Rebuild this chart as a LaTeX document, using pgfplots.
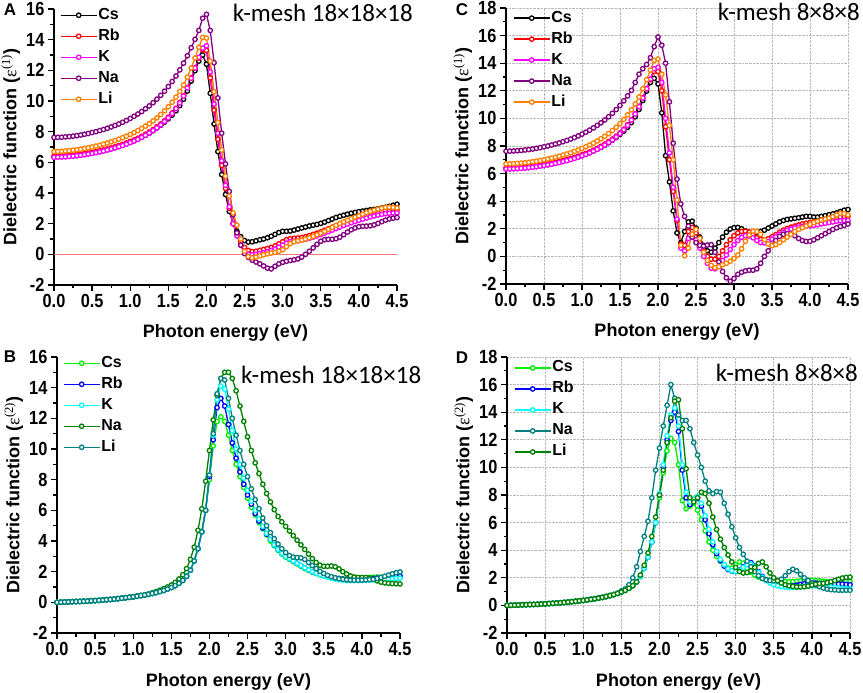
\documentclass[border=0pt]{standalone}
\usepackage{pgfplots}
\pgfplotsset{compat=1.18}
\usepackage{pgfplotstable}
\usepackage{fontspec}
\setmainfont{Liberation Sans}
\newfontfamily\kfont{Carlito}
\newfontfamily\serfont{Liberation Serif}

\definecolor{cBlack}{RGB}{0,0,0}
\definecolor{cRed}{RGB}{255,0,0}
\definecolor{cMag}{RGB}{255,0,255}
\definecolor{cPur}{RGB}{128,0,128}
\definecolor{cOra}{RGB}{255,128,0}
\definecolor{cGre}{RGB}{0,240,0}
\definecolor{cBlu}{RGB}{0,0,255}
\definecolor{cCya}{RGB}{0,255,255}
\definecolor{cDgr}{RGB}{0,128,0}
\definecolor{cTea}{RGB}{0,128,128}
\definecolor{zeroline}{RGB}{240,120,120}

\pgfplotstableread{
x Cs Rb K Na Li
0.00 6.35 6.40 6.33 7.62 6.70
0.05 6.36 6.41 6.34 7.63 6.71
0.10 6.37 6.42 6.35 7.64 6.72
0.15 6.38 6.43 6.36 7.66 6.74
0.20 6.40 6.45 6.38 7.68 6.76
0.25 6.42 6.47 6.40 7.71 6.79
0.30 6.45 6.50 6.43 7.74 6.82
0.35 6.48 6.53 6.46 7.78 6.86
0.40 6.52 6.57 6.50 7.83 6.90
0.45 6.56 6.61 6.54 7.88 6.95
0.50 6.60 6.65 6.58 7.94 7.00
0.55 6.65 6.70 6.63 8.00 7.06
0.60 6.70 6.75 6.68 8.07 7.12
0.65 6.76 6.81 6.74 8.14 7.19
0.70 6.82 6.87 6.80 8.22 7.26
0.75 6.89 6.94 6.87 8.31 7.34
0.80 6.96 7.01 6.94 8.40 7.42
0.85 7.04 7.09 7.02 8.50 7.51
0.90 7.12 7.17 7.10 8.61 7.61
0.95 7.21 7.26 7.19 8.73 7.71
1.00 7.30 7.36 7.29 8.86 7.82
1.05 7.40 7.46 7.39 9.00 7.94
1.10 7.51 7.57 7.50 9.15 8.07
1.15 7.63 7.70 7.63 9.31 8.21
1.20 7.76 7.83 7.76 9.49 8.36
1.25 7.90 7.98 7.91 9.68 8.52
1.30 8.06 8.14 8.07 9.89 8.70
1.35 8.24 8.32 8.25 10.12 8.90
1.40 8.42 8.50 8.44 10.37 9.12
1.45 8.62 8.71 8.66 10.64 9.36
1.50 8.84 8.95 8.90 10.94 9.62
1.55 9.08 9.22 9.18 11.27 9.92
1.60 9.36 9.53 9.50 11.63 10.25
1.65 9.70 9.90 9.88 12.03 10.62
1.70 10.12 10.34 10.32 12.47 11.05
1.75 10.65 10.87 10.85 12.95 11.55
1.80 11.30 11.50 11.48 13.47 12.15
1.85 11.98 12.15 12.15 14.02 12.80
1.90 12.60 12.80 12.85 14.60 13.50
1.95 13.00 13.35 13.45 15.40 14.15
2.00 12.40 13.30 13.60 15.65 14.10
2.05 10.50 11.50 11.90 14.60 12.60
2.10 8.50 9.40 9.80 12.50 10.60
2.15 6.70 7.50 7.90 10.20 8.60
2.20 5.20 5.80 6.10 7.90 6.80
2.25 3.90 4.30 4.50 5.90 5.10
2.30 2.80 3.00 3.10 4.10 3.80
2.35 2.00 2.00 2.00 2.60 2.70
2.40 1.50 1.30 1.20 1.40 1.90
2.45 1.15 0.80 0.60 0.60 1.00
2.50 0.90 0.45 0.20 0.05 0.20
2.55 0.80 0.25 0.00 -0.20 -0.15
2.60 0.82 0.18 -0.03 -0.38 -0.22
2.65 0.88 0.20 0.00 -0.50 -0.18
2.70 0.95 0.26 0.05 -0.62 -0.10
2.75 1.00 0.32 0.10 -0.76 -0.03
2.80 1.08 0.38 0.17 -0.90 0.03
2.85 1.18 0.45 0.25 -0.95 0.08
2.90 1.30 0.55 0.35 -0.78 0.13
2.95 1.42 0.68 0.47 -0.62 0.20
3.00 1.50 0.82 0.60 -0.52 0.30
3.05 1.50 0.95 0.73 -0.45 0.50
3.10 1.52 1.02 0.82 -0.40 0.70
3.15 1.58 1.04 0.86 -0.36 0.82
3.20 1.65 1.06 0.89 -0.30 0.88
3.25 1.72 1.10 0.93 -0.18 0.93
3.30 1.78 1.15 0.98 0.00 1.00
3.35 1.85 1.22 1.05 0.20 1.08
3.40 1.90 1.30 1.12 0.42 1.17
3.45 1.95 1.38 1.20 0.65 1.27
3.50 2.02 1.47 1.29 0.85 1.38
3.55 2.10 1.57 1.38 0.95 1.50
3.60 2.20 1.67 1.48 0.98 1.63
3.65 2.30 1.77 1.58 0.98 1.76
3.70 2.40 1.87 1.68 1.02 1.89
3.75 2.48 1.97 1.78 1.12 2.01
3.80 2.55 2.06 1.88 1.28 2.12
3.85 2.62 2.15 1.97 1.45 2.22
3.90 2.68 2.24 2.06 1.60 2.32
3.95 2.73 2.32 2.14 1.72 2.42
4.00 2.78 2.40 2.22 1.80 2.52
4.05 2.82 2.47 2.30 1.83 2.62
4.10 2.86 2.54 2.37 1.84 2.71
4.15 2.90 2.61 2.44 1.86 2.80
4.20 2.93 2.67 2.50 1.92 2.88
4.25 2.97 2.73 2.56 2.02 2.95
4.30 3.02 2.79 2.61 2.13 3.01
4.35 3.07 2.84 2.65 2.23 3.06
4.40 3.13 2.88 2.68 2.31 3.08
4.45 3.20 2.90 2.70 2.36 3.06
4.50 3.27 2.90 2.70 2.40 3.02
}\tA

\pgfplotstableread{
x Cs Rb K Na Li
0.00 6.35 6.40 6.33 7.62 6.70
0.05 6.36 6.41 6.34 7.63 6.71
0.10 6.37 6.42 6.35 7.64 6.72
0.15 6.38 6.43 6.36 7.66 6.74
0.20 6.40 6.45 6.38 7.68 6.76
0.25 6.42 6.47 6.40 7.71 6.79
0.30 6.45 6.50 6.43 7.74 6.82
0.35 6.48 6.53 6.46 7.78 6.86
0.40 6.52 6.57 6.50 7.83 6.90
0.45 6.56 6.61 6.54 7.88 6.95
0.50 6.60 6.65 6.58 7.94 7.00
0.55 6.65 6.70 6.63 8.00 7.06
0.60 6.70 6.75 6.68 8.07 7.12
0.65 6.76 6.81 6.74 8.14 7.19
0.70 6.82 6.87 6.80 8.22 7.26
0.75 6.89 6.94 6.87 8.31 7.34
0.80 6.96 7.01 6.94 8.40 7.42
0.85 7.04 7.09 7.02 8.50 7.51
0.90 7.12 7.17 7.10 8.61 7.61
0.95 7.21 7.26 7.19 8.73 7.71
1.00 7.30 7.36 7.29 8.86 7.82
1.05 7.40 7.46 7.39 9.00 7.94
1.10 7.51 7.57 7.50 9.15 8.07
1.15 7.63 7.70 7.63 9.31 8.21
1.20 7.76 7.83 7.76 9.49 8.36
1.25 7.90 7.98 7.91 9.68 8.52
1.30 8.06 8.14 8.07 9.89 8.70
1.35 8.24 8.32 8.25 10.12 8.90
1.40 8.42 8.50 8.44 10.37 9.12
1.45 8.62 8.71 8.66 10.64 9.36
1.50 8.84 8.95 8.90 10.94 9.62
1.55 9.08 9.22 9.18 11.27 9.92
1.60 9.36 9.53 9.50 11.63 10.25
1.65 9.70 9.90 9.88 12.03 10.62
1.70 10.12 10.34 10.32 12.60 11.05
1.75 10.65 10.87 10.85 13.20 11.55
1.80 11.30 11.50 11.48 13.60 12.15
1.85 11.98 12.15 12.15 13.90 12.80
1.90 12.60 12.80 12.85 14.40 13.50
1.95 12.90 13.40 13.60 15.20 14.20
2.00 12.50 13.40 13.70 15.90 14.30
2.05 10.40 12.00 12.60 15.30 13.20
2.10 7.30 9.40 10.00 14.00 11.70
2.15 5.40 7.00 7.50 11.20 9.50
2.20 3.30 4.70 5.00 8.20 7.00
2.25 1.70 2.60 2.70 5.60 4.10
2.30 1.00 0.90 0.60 3.80 0.80
2.35 1.80 0.80 0.40 2.90 0.05
2.40 2.50 1.80 1.30 2.20 0.60
2.45 2.55 2.10 1.60 1.40 1.60
2.50 2.05 1.70 1.20 1.00 1.95
2.55 1.40 1.00 0.60 0.80 1.30
2.60 0.80 0.40 0.00 0.75 0.30
2.65 0.40 0.00 -0.50 0.82 -0.30
2.70 0.30 -0.20 -0.85 0.85 -0.65
2.75 0.60 -0.20 -0.90 0.30 -0.82
2.80 1.00 0.00 -0.70 -0.40 -0.75
2.85 1.40 0.40 -0.30 -1.10 -0.60
2.90 1.75 0.85 0.10 -1.55 -0.50
2.95 1.98 1.20 0.50 -1.80 -0.35
3.00 2.08 1.50 0.85 -1.60 -0.15
3.05 2.10 1.70 1.15 -1.30 0.10
3.10 2.00 1.80 1.38 -1.15 0.55
3.15 1.85 1.83 1.50 -1.05 1.10
3.20 1.75 1.75 1.48 -1.00 1.55
3.25 1.70 1.55 1.35 -1.00 1.83
3.30 1.72 1.35 1.15 -0.90 1.80
3.35 1.80 1.22 1.00 -0.50 1.60
3.40 1.90 1.20 0.98 0.00 1.20
3.45 2.05 1.28 1.08 0.40 0.90
3.50 2.20 1.42 1.25 0.80 0.78
3.55 2.35 1.58 1.42 1.15 0.85
3.60 2.50 1.75 1.60 1.45 1.00
3.65 2.60 1.90 1.75 1.60 1.20
3.70 2.68 2.02 1.88 1.65 1.40
3.75 2.72 2.12 1.98 1.62 1.60
3.80 2.76 2.20 2.06 1.50 1.80
3.85 2.80 2.28 2.12 1.30 1.95
3.90 2.85 2.35 2.17 1.15 2.08
3.95 2.90 2.40 2.20 1.08 2.20
4.00 2.90 2.45 2.22 1.10 2.32
4.05 2.85 2.50 2.25 1.20 2.45
4.10 2.85 2.55 2.30 1.35 2.55
4.15 2.90 2.60 2.35 1.50 2.63
4.20 2.95 2.65 2.40 1.65 2.70
4.25 3.02 2.70 2.45 1.80 2.78
4.30 3.08 2.75 2.50 1.95 2.88
4.35 3.15 2.80 2.55 2.07 3.00
4.40 3.25 2.85 2.58 2.17 3.12
4.45 3.35 2.88 2.60 2.25 3.10
4.50 3.40 2.90 2.60 2.35 3.00
}\tC

\pgfplotstableread{
x Cs Rb K Na Li
0.00 0.00 0.00 0.00 0.00 0.00
0.05 0.01 0.01 0.01 0.01 0.01
0.10 0.02 0.02 0.02 0.02 0.02
0.15 0.03 0.03 0.03 0.03 0.03
0.20 0.04 0.04 0.04 0.04 0.04
0.25 0.05 0.05 0.05 0.05 0.05
0.30 0.06 0.06 0.06 0.06 0.06
0.35 0.07 0.07 0.07 0.07 0.07
0.40 0.08 0.08 0.08 0.08 0.08
0.45 0.10 0.10 0.10 0.10 0.10
0.50 0.11 0.11 0.11 0.11 0.11
0.55 0.13 0.13 0.13 0.13 0.13
0.60 0.15 0.15 0.15 0.15 0.15
0.65 0.17 0.17 0.17 0.17 0.17
0.70 0.19 0.19 0.19 0.19 0.19
0.75 0.21 0.21 0.21 0.21 0.21
0.80 0.24 0.24 0.24 0.24 0.24
0.85 0.27 0.27 0.27 0.27 0.27
0.90 0.30 0.30 0.30 0.30 0.30
0.95 0.33 0.33 0.33 0.33 0.33
1.00 0.36 0.36 0.36 0.36 0.36
1.05 0.40 0.40 0.40 0.40 0.40
1.10 0.44 0.44 0.44 0.44 0.44
1.15 0.48 0.48 0.48 0.48 0.48
1.20 0.53 0.53 0.53 0.53 0.53
1.25 0.58 0.58 0.58 0.62 0.58
1.30 0.64 0.64 0.64 0.70 0.64
1.35 0.71 0.71 0.71 0.79 0.71
1.40 0.78 0.78 0.78 0.89 0.78
1.45 0.87 0.87 0.87 1.00 0.87
1.50 0.97 0.97 0.97 1.13 0.97
1.55 1.09 1.09 1.09 1.30 1.09
1.60 1.24 1.24 1.24 1.52 1.24
1.65 1.43 1.43 1.43 1.80 1.43
1.70 1.70 1.70 1.70 2.20 1.70
1.75 2.10 2.10 2.10 2.80 2.10
1.80 2.70 2.70 2.70 3.60 2.70
1.85 3.50 3.50 3.50 4.70 3.50
1.90 4.60 4.60 4.60 6.10 4.60
1.95 6.00 6.00 6.00 7.90 6.00
2.00 8.00 8.20 8.30 9.90 8.30
2.05 10.20 10.60 10.90 11.90 11.00
2.10 11.80 12.70 13.20 13.50 13.60
2.15 12.10 13.30 14.10 14.60 14.60
2.20 11.80 12.80 13.90 15.00 14.50
2.25 10.90 11.60 12.60 15.00 13.30
2.30 9.90 10.40 11.20 14.60 12.00
2.35 9.00 9.40 10.00 13.80 10.90
2.40 8.20 8.50 9.00 12.80 9.90
2.45 7.50 7.70 8.10 11.80 9.00
2.50 6.80 7.00 7.30 10.80 8.20
2.55 6.20 6.40 6.60 9.90 7.40
2.60 5.70 5.80 6.00 9.10 6.70
2.65 5.20 5.30 5.45 8.40 6.10
2.70 4.80 4.85 4.95 7.70 5.50
2.75 4.40 4.45 4.50 7.10 5.00
2.80 4.00 4.10 4.10 6.55 4.55
2.85 3.70 3.75 3.75 6.05 4.15
2.90 3.40 3.45 3.45 5.60 3.80
2.95 3.15 3.20 3.20 5.25 3.50
3.00 2.95 3.00 3.00 4.95 3.25
3.05 2.80 2.85 2.85 4.65 3.05
3.10 2.65 2.70 2.70 4.35 2.95
3.15 2.50 2.55 2.55 4.05 2.92
3.20 2.35 2.40 2.40 3.75 2.90
3.25 2.20 2.25 2.25 3.45 2.80
3.30 2.08 2.12 2.12 3.15 2.60
3.35 1.97 2.00 2.00 2.85 2.40
3.40 1.88 1.90 1.90 2.60 2.20
3.45 1.80 1.82 1.80 2.42 2.02
3.50 1.73 1.75 1.72 2.35 1.88
3.55 1.67 1.68 1.64 2.35 1.76
3.60 1.62 1.62 1.57 2.37 1.67
3.65 1.58 1.58 1.52 2.32 1.60
3.70 1.55 1.55 1.48 2.18 1.54
3.75 1.53 1.52 1.45 2.00 1.50
3.80 1.52 1.50 1.43 1.85 1.47
3.85 1.52 1.50 1.42 1.72 1.45
3.90 1.53 1.50 1.42 1.65 1.44
3.95 1.55 1.50 1.42 1.62 1.44
4.00 1.57 1.51 1.43 1.62 1.45
4.05 1.60 1.52 1.44 1.62 1.46
4.10 1.62 1.54 1.45 1.58 1.48
4.15 1.64 1.56 1.46 1.50 1.50
4.20 1.65 1.58 1.47 1.40 1.55
4.25 1.64 1.60 1.48 1.32 1.62
4.30 1.62 1.62 1.50 1.27 1.70
4.35 1.60 1.65 1.52 1.24 1.78
4.40 1.60 1.68 1.54 1.22 1.86
4.45 1.62 1.70 1.56 1.21 1.93
4.50 1.65 1.72 1.58 1.20 1.98
}\tB

\pgfplotstableread{
x Cs Rb K Na Li
0.00 0.00 0.00 0.00 0.00 0.00
0.05 0.01 0.01 0.01 0.01 0.01
0.10 0.02 0.02 0.02 0.02 0.02
0.15 0.03 0.03 0.03 0.03 0.03
0.20 0.04 0.04 0.04 0.04 0.04
0.25 0.05 0.05 0.05 0.05 0.05
0.30 0.06 0.06 0.06 0.06 0.06
0.35 0.07 0.07 0.07 0.07 0.07
0.40 0.08 0.08 0.08 0.08 0.08
0.45 0.10 0.10 0.10 0.10 0.10
0.50 0.11 0.11 0.11 0.11 0.11
0.55 0.13 0.13 0.13 0.13 0.13
0.60 0.15 0.15 0.15 0.15 0.15
0.65 0.17 0.17 0.17 0.17 0.17
0.70 0.19 0.19 0.19 0.19 0.19
0.75 0.21 0.21 0.21 0.21 0.21
0.80 0.24 0.24 0.24 0.24 0.24
0.85 0.27 0.27 0.27 0.27 0.27
0.90 0.30 0.30 0.30 0.30 0.30
0.95 0.33 0.33 0.33 0.33 0.33
1.00 0.36 0.36 0.36 0.36 0.36
1.05 0.40 0.40 0.40 0.40 0.40
1.10 0.44 0.44 0.44 0.44 0.44
1.15 0.48 0.48 0.48 0.48 0.48
1.20 0.53 0.53 0.53 0.53 0.53
1.25 0.58 0.58 0.58 0.58 0.58
1.30 0.64 0.64 0.64 0.64 0.64
1.35 0.71 0.71 0.71 0.71 0.71
1.40 0.78 0.78 0.78 0.78 0.78
1.45 0.87 0.87 0.87 0.87 0.87
1.50 0.97 0.97 0.97 1.05 0.97
1.55 1.09 1.09 1.09 1.20 1.09
1.60 1.24 1.24 1.24 1.50 1.24
1.65 1.43 1.43 1.43 2.00 1.43
1.70 1.70 1.70 1.70 2.80 1.70
1.75 2.10 2.10 2.10 3.90 2.20
1.80 2.70 2.70 2.70 5.00 2.90
1.85 3.50 3.50 3.50 6.10 3.80
1.90 4.60 4.60 4.60 7.80 5.00
1.95 6.00 6.00 6.00 9.80 6.40
2.00 7.80 8.00 8.10 11.40 8.00
2.05 9.60 10.00 10.20 13.00 9.80
2.10 11.20 12.00 12.30 14.50 11.80
2.15 12.10 13.40 13.80 16.00 13.60
2.20 11.80 14.00 14.30 15.00 14.80
2.25 10.20 12.60 13.00 13.80 14.90
2.30 7.60 9.80 10.20 13.40 12.80
2.35 7.00 7.80 8.20 13.40 9.90
2.40 7.20 7.30 7.50 12.80 7.80
2.45 7.40 7.60 7.70 11.80 7.50
2.50 6.90 7.80 7.90 10.90 7.80
2.55 6.20 7.20 7.40 10.00 8.20
2.60 5.40 6.20 6.50 9.00 8.10
2.65 4.60 5.20 5.50 8.30 7.40
2.70 4.00 4.40 4.60 8.10 6.40
2.75 3.55 3.75 3.90 8.25 5.50
2.80 3.20 3.25 3.35 8.20 4.80
2.85 2.90 2.85 2.95 7.40 4.20
2.90 2.70 2.60 2.65 6.60 3.65
2.95 2.70 2.48 2.50 5.70 3.15
3.00 2.95 2.45 2.45 4.90 2.75
3.05 3.15 2.55 2.52 4.20 2.45
3.10 3.05 2.80 2.75 3.70 2.35
3.15 2.70 3.05 2.95 3.20 2.38
3.20 2.40 3.10 3.00 2.80 2.50
3.25 2.20 2.85 2.80 2.45 2.75
3.30 2.05 2.45 2.40 2.15 3.05
3.35 1.95 2.10 2.05 1.95 3.15
3.40 1.88 1.85 1.80 1.85 2.80
3.45 1.82 1.68 1.62 1.80 2.35
3.50 1.78 1.56 1.50 1.78 2.00
3.55 1.75 1.48 1.42 1.80 1.78
3.60 1.73 1.43 1.36 1.90 1.62
3.65 1.72 1.40 1.32 2.15 1.50
3.70 1.72 1.40 1.30 2.45 1.42
3.75 1.73 1.42 1.30 2.62 1.37
3.80 1.75 1.46 1.32 2.50 1.34
3.85 1.78 1.52 1.35 2.25 1.33
3.90 1.80 1.57 1.38 2.00 1.35
3.95 1.82 1.60 1.40 1.80 1.40
4.00 1.82 1.62 1.42 1.62 1.47
4.05 1.80 1.62 1.42 1.48 1.54
4.10 1.78 1.60 1.40 1.35 1.58
4.15 1.75 1.58 1.38 1.25 1.60
4.20 1.72 1.56 1.35 1.18 1.65
4.25 1.70 1.55 1.32 1.14 1.72
4.30 1.70 1.55 1.30 1.12 1.80
4.35 1.72 1.55 1.28 1.10 1.90
4.40 1.75 1.55 1.25 1.10 1.98
4.45 1.75 1.52 1.22 1.10 2.03
4.50 1.72 1.50 1.20 1.10 2.05
}\tD

\pgfplotsset{
  legend image code/.code={\draw[mark repeat=2,mark phase=2,#1] plot coordinates {(0bp,0bp) (18bp,0bp) (36bp,0bp)};},
  panel/.style={
    scale only axis, width=343bp, height=276bp,
    axis x line*=bottom, axis y line*=left,
    axis line style={line width=1.8bp, black},
    xmin=0, xmax=4.5, xtick={0,0.5,1,1.5,2,2.5,3,3.5,4,4.5},
    minor x tick num=1, minor y tick num=1,
    tick align=outside, major tick length=6bp, minor tick length=3.5bp,
    every tick/.style={black, line width=1.3bp},
    /pgf/number format/assume math mode=true,
    ticklabel style={font=\fontsize{19bp}{19bp}\selectfont\bfseries, xscale=0.86, inner sep=3bp},
    xticklabel style={/pgf/number format/fixed, /pgf/number format/fixed zerofill, /pgf/number format/precision=1},
    yticklabel style={xshift=-1bp},
    label style={font=\fontsize{18bp}{20bp}\selectfont\bfseries},
    xlabel={Photon energy (eV)},
    xlabel style={at={(axis description cs:0.5,0)}, anchor=base, yshift=-53bp},
    legend cell align=left,
    legend style={draw=none, fill=none, inner sep=0pt, anchor=north west,
      font=\fontsize{16bp}{16bp}\selectfont\bfseries,
      nodes={inner sep=1bp, text height=11bp, text depth=3bp}, row sep=5bp,
      /tikz/every even column/.append style={column sep=3bp}},
    every axis plot/.append style={line width=1.3bp, mark=*, mark size=2.2bp, mark options={fill=white, line width=1.3bp, solid}},
  },
}

\newcommand{\epsone}{{\normalfont\serfont ε\textsuperscript{(1)}}}
\newcommand{\epstwo}{{\normalfont\serfont ε\textsuperscript{(2)}}}

\begin{document}
\begin{tikzpicture}
\useasboundingbox (0,0) rectangle (863bp,693bp);

% Panel A
\begin{axis}[panel, at={(54bp,408bp)}, anchor=south west,
  ymin=-2, ymax=16, ytick={-2,0,2,4,6,8,10,12,14,16},
  ylabel={Dielectric function (\epsone)},
  legend style={at={(0.017,1.007)}}]
\addplot[color=zeroline, line width=1bp, mark=none, forget plot] coordinates {(0,0) (4.5,0)};
\addplot[color=cBlack] table[x=x,y=Cs]{\tA};
\addplot[color=cRed] table[x=x,y=Rb]{\tA};
\addplot[color=cMag] table[x=x,y=K]{\tA};
\addplot[color=cPur] table[x=x,y=Na]{\tA};
\addplot[color=cOra] table[x=x,y=Li]{\tA};
\legend{Cs,Rb,K,Na,Li}
\end{axis}

% Panel C
\begin{axis}[panel, at={(506bp,409bp)}, anchor=south west, width=342bp,
  ymin=-2, ymax=18, ytick={-2,0,2,4,6,8,10,12,14,16,18},
  grid=major, grid style={densely dotted, gray!55, line width=0.6bp},
  ylabel={Dielectric function (\epsone)},
  legend style={at={(0.02,0.993)}}]
\addplot[color=cBlack] table[x=x,y=Cs]{\tC};
\addplot[color=cRed] table[x=x,y=Rb]{\tC};
\addplot[color=cMag] table[x=x,y=K]{\tC};
\addplot[color=cPur] table[x=x,y=Na]{\tC};
\addplot[color=cOra] table[x=x,y=Li]{\tC};
\legend{Cs,Rb,K,Na,Li}
\end{axis}

% Panel B
\begin{axis}[panel, at={(57bp,60bp)}, anchor=south west,
  ymin=-2, ymax=16, ytick={-2,0,2,4,6,8,10,12,14,16},
  ylabel={Dielectric function (\epstwo)},
  legend style={at={(0.017,1.007)}}]
\addplot[color=cGre] table[x=x,y=Cs]{\tB};
\addplot[color=cBlu] table[x=x,y=Rb]{\tB};
\addplot[color=cCya] table[x=x,y=K]{\tB};
\addplot[color=cDgr] table[x=x,y=Na]{\tB};
\addplot[color=cTea] table[x=x,y=Li]{\tB};
\legend{Cs,Rb,K,Na,Li}
\end{axis}

% Panel D
\begin{axis}[panel, at={(507bp,60bp)}, anchor=south west,
  ymin=-2, ymax=18, ytick={-2,0,2,4,6,8,10,12,14,16,18},
  grid=major, grid style={densely dotted, gray!55, line width=0.6bp},
  ylabel={Dielectric function (\epstwo)},
  legend style={at={(0.02,0.99)}}]
\addplot[color=cGre] table[x=x,y=Cs]{\tD};
\addplot[color=cBlu] table[x=x,y=Rb]{\tD};
\addplot[color=cCya] table[x=x,y=K]{\tD};
\addplot[color=cTea] table[x=x,y=Na]{\tD};
\addplot[color=cDgr] table[x=x,y=Li]{\tD};
\legend{Cs,Rb,K,Na,Li}
\end{axis}

\node[font=\fontsize{17bp}{17bp}\selectfont\bfseries] at (10bp,683bp) {A};
\node[font=\fontsize{17bp}{17bp}\selectfont\bfseries] at (462bp,683bp) {C};
\node[font=\fontsize{17bp}{17bp}\selectfont\bfseries] at (10bp,336bp) {B};
\node[font=\fontsize{17bp}{17bp}\selectfont\bfseries] at (462bp,335bp) {D};

\node[anchor=east, inner sep=0pt, font=\kfont\fontsize{25bp}{25bp}\selectfont] at (413bp,680bp) {k-mesh 18×18×18};
\node[anchor=east, inner sep=0pt, font=\kfont\fontsize{25bp}{25bp}\selectfont] at (860bp,681bp) {k-mesh 8×8×8};
\node[anchor=west, inner sep=0pt, font=\kfont\fontsize{25bp}{25bp}\selectfont] at (241bp,318bp) {k-mesh 18×18×18};
\node[anchor=east, inner sep=0pt, font=\kfont\fontsize{25bp}{25bp}\selectfont] at (858bp,320bp) {k-mesh 8×8×8};
\end{tikzpicture}
\end{document}
